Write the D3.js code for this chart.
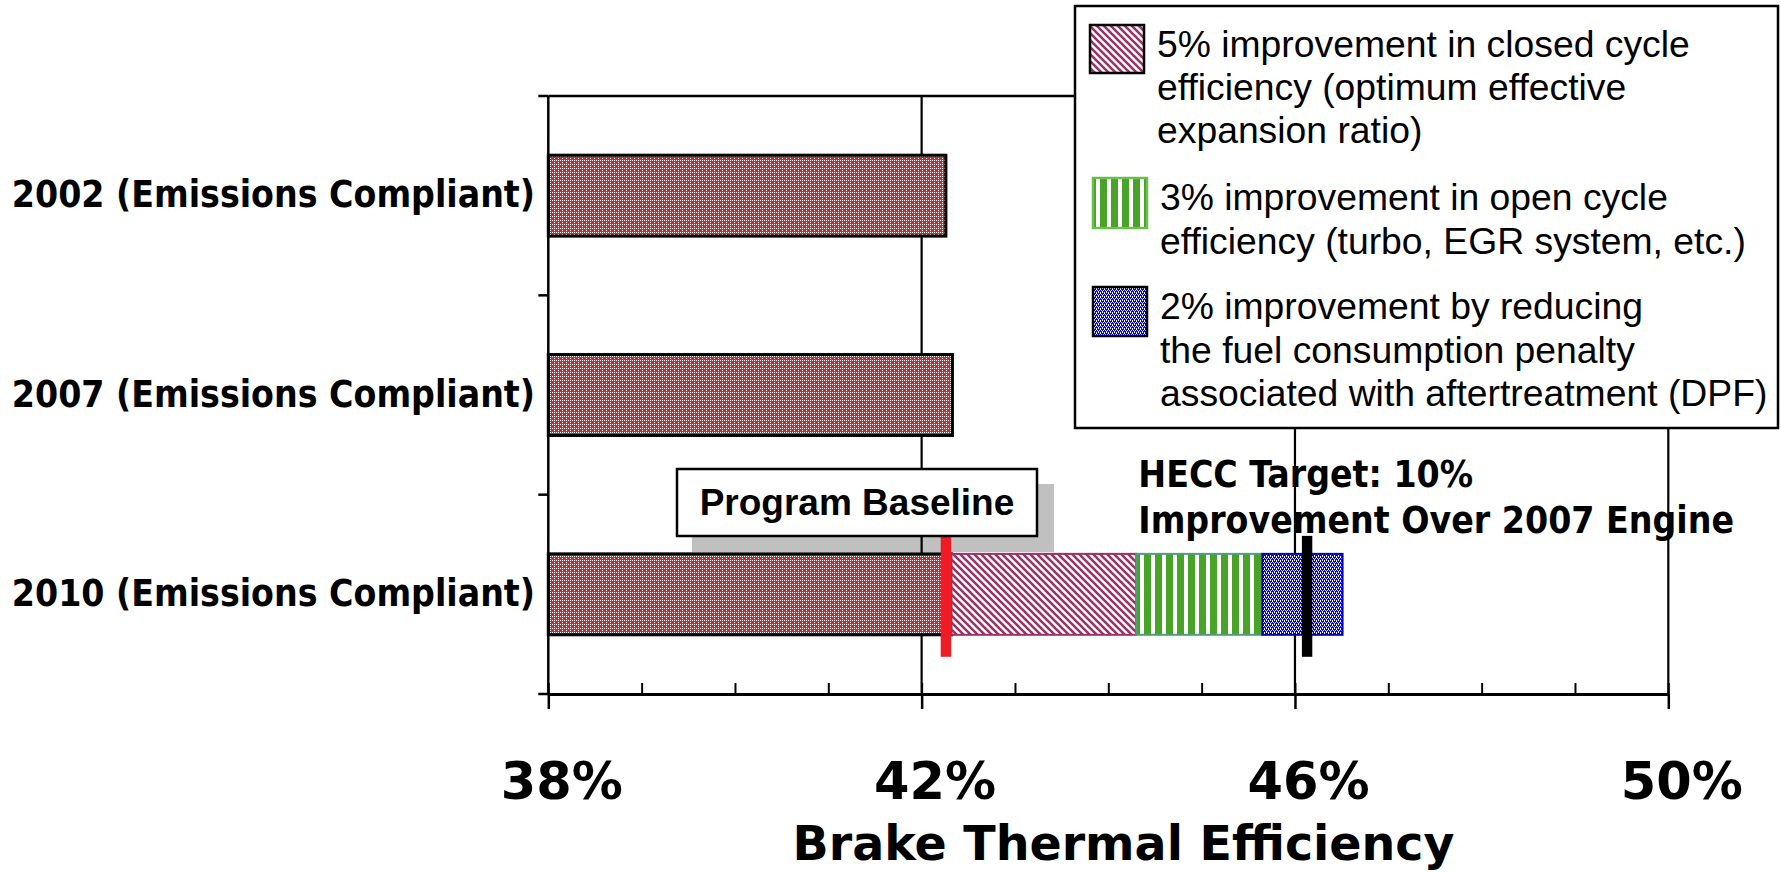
<!DOCTYPE html>
<html>
<head>
<meta charset="utf-8">
<script src="https://cdn.jsdelivr.net/npm/d3@7/dist/d3.min.js"></script>
<style>
  html, body { margin: 0; padding: 0; background: #fff; }
  svg { display: block; }
</style>
</head>
<body>
<svg id="chart" width="1781" height="872"></svg>
<script>
// ---- data ----
const categories = [
  "2002 (Emissions Compliant)",
  "2007 (Emissions Compliant)",
  "2010 (Emissions Compliant)"
];
// brake thermal efficiency of each engine generation (%)
const baseEfficiency = [42.26, 42.33, 42.32];
// cumulative efficiency after each improvement step on the 2010 engine (%)
const stepNames = ["closed", "open", "aftertreatment"];
const stepEnds = [44.30, 45.65, 46.51];
const baselineMarker = 42.26;
const targetMarker = 46.13;
const majorTicks = [38, 42, 46, 50];
const minorTicks = [38, 39, 40, 41, 42, 43, 44, 45, 46, 47, 48, 49, 50];
const legendLines = [
  ["5% improvement in closed cycle", "efficiency (optimum effective", "expansion ratio)"],
  ["3% improvement in open cycle", "efficiency (turbo, EGR system, etc.)"],
  ["2% improvement by reducing", "the fuel consumption penalty", "associated with aftertreatment (DPF)"]
];

// ---- layout ----
const svg = d3.select("#chart");
const x = d3.scaleLinear().domain([38, 50]).range([548.3, 1668.3]);
const y = d3.scaleBand().domain(categories).range([96, 694])
  .paddingInner(0.594).paddingOuter(0.297);
const axisY = y.range()[1];
const topY = y.range()[0];

const condensedBold = "'DejaVu Sans Condensed', 'DejaVu Sans', sans-serif";

// ---- fill patterns ----
const defs = svg.append("defs");
function dotPattern(id, color, whites) {
  const p = defs.append("pattern").attr("id", id)
    .attr("patternUnits", "userSpaceOnUse").attr("width", 4).attr("height", 4);
  p.append("rect").attr("width", 4).attr("height", 4).attr("fill", color);
  p.selectAll("rect.w").data(whites).join("rect").attr("class", "w")
    .attr("x", d => d[0]).attr("y", d => d[1])
    .attr("width", 1).attr("height", 1).attr("fill", "#fff");
}
dotPattern("pat-red", "#ee1c25", [[0, 0], [2, 2], [2, 0]]);
dotPattern("pat-blue", "#0000ff", [[0, 0], [2, 0], [1, 2], [3, 2], [0, 1], [2, 3]]);

const diag = defs.append("pattern").attr("id", "pat-plum")
  .attr("patternUnits", "userSpaceOnUse").attr("width", 7).attr("height", 7);
diag.append("rect").attr("width", 7).attr("height", 7).attr("fill", "#fff");
diag.append("path").attr("d", "M-1,-1 L8,8 M-1,6 L1,8 M6,-1 L8,1")
  .attr("stroke", "#993366").attr("stroke-width", 2.6);

const vert = defs.append("pattern").attr("id", "pat-green")
  .attr("patternUnits", "userSpaceOnUse").attr("width", 11).attr("height", 11);
vert.append("rect").attr("width", 11).attr("height", 11).attr("fill", "#4aa329");
vert.append("rect").attr("x", 7).attr("width", 4).attr("height", 11).attr("fill", "#fff");

const stepStyle = {
  closed: { fill: "url(#pat-plum)", stroke: "#993366" },
  open: { fill: "url(#pat-green)", stroke: "#4d9f78" },
  aftertreatment: { fill: "url(#pat-blue)", stroke: "#0000b4" }
};

// ---- "Program Baseline" callout shadow (behind the grid) ----
const callout = { x: 677, y: 469, w: 360, h: 67 };
svg.append("rect")
  .attr("x", callout.x + 15).attr("y", callout.y + 15)
  .attr("width", callout.w + 2).attr("height", callout.h + 1)
  .attr("fill", "#c0c0c0");

// ---- plot frame and vertical gridlines ----
svg.append("line")
  .attr("x1", x(38)).attr("x2", x(50)).attr("y1", topY).attr("y2", topY)
  .attr("stroke", "#000").attr("stroke-width", 2.5);
svg.append("g").selectAll("line")
  .data(majorTicks.filter(d => d !== 38))
  .join("line")
  .attr("x1", d => x(d)).attr("x2", d => x(d))
  .attr("y1", topY).attr("y2", axisY)
  .attr("stroke", "#000").attr("stroke-width", 2.2);

// ---- bars ----
const bars = svg.append("g");
bars.selectAll("rect.base")
  .data(categories.map((c, i) => ({ c, v: baseEfficiency[i] })))
  .join("rect")
  .attr("class", "base")
  .attr("x", x(38))
  .attr("y", d => y(d.c))
  .attr("width", d => x(d.v) - x(38))
  .attr("height", y.bandwidth())
  .attr("fill", "url(#pat-red)")
  .attr("stroke", "#000").attr("stroke-width", 3);

const lastCat = categories[categories.length - 1];
const steps = stepEnds.map((end, i) => ({
  name: stepNames[i],
  start: i === 0 ? baseEfficiency[baseEfficiency.length - 1] : stepEnds[i - 1],
  end
}));
bars.selectAll("rect.step")
  .data(steps)
  .join("rect")
  .attr("class", "step")
  .attr("x", d => x(d.start))
  .attr("y", y(lastCat))
  .attr("width", d => x(d.end) - x(d.start))
  .attr("height", y.bandwidth())
  .attr("fill", d => stepStyle[d.name].fill)
  .attr("stroke", d => stepStyle[d.name].stroke)
  .attr("stroke-width", 2);

// ---- axes ----
const xMinor = d3.axisBottom(x).tickValues(minorTicks).tickSize(-11).tickFormat("");
const gMinor = svg.append("g").attr("transform", `translate(0,${axisY})`).call(xMinor);
gMinor.select(".domain").remove();
gMinor.selectAll(".tick line").attr("stroke", "#000").attr("stroke-width", 2);

const xMajor = d3.axisBottom(x).tickValues(majorTicks).tickSize(15).tickSizeOuter(0)
  .tickFormat(d => d + "%");
const gMajor = svg.append("g").attr("transform", `translate(0,${axisY})`).call(xMajor);
gMajor.select(".domain").attr("stroke", "#000").attr("stroke-width", 3);
gMajor.selectAll(".tick line").attr("stroke", "#000").attr("stroke-width", 2.5);
gMajor.selectAll(".tick text")
  .attr("y", 104.5).attr("dy", 0).attr("dx", 13)
  .attr("fill", "#000")
  .style("font-family", "'DejaVu Sans', sans-serif")
  .style("font-weight", "bold")
  .style("font-size", "51px");

svg.append("text")
  .attr("x", 1123.5).attr("y", 860)
  .attr("text-anchor", "middle")
  .style("font-family", "'DejaVu Sans', sans-serif")
  .style("font-weight", "bold")
  .style("font-size", "47.5px")
  .text("Brake Thermal Efficiency");

// category axis: line plus ticks at the category boundaries
svg.append("line")
  .attr("x1", x(38)).attr("x2", x(38)).attr("y1", topY).attr("y2", axisY)
  .attr("stroke", "#000").attr("stroke-width", 2.5);
const boundaries = [topY].concat(categories.map(c => y(c) + y.bandwidth() + y.step() * y.paddingInner() / 2));
boundaries[boundaries.length - 1] = axisY;
svg.append("g").selectAll("line")
  .data(boundaries)
  .join("line")
  .attr("x1", x(38) - 10).attr("x2", x(38))
  .attr("y1", d => d).attr("y2", d => d)
  .attr("stroke", "#000").attr("stroke-width", 2.5);

svg.append("g").selectAll("text")
  .data(categories)
  .join("text")
  .attr("x", 535)
  .attr("y", d => y(d) + y.bandwidth() / 2 + 11.7)
  .attr("text-anchor", "end")
  .style("font-family", condensedBold)
  .style("font-stretch", "condensed")
  .style("font-weight", "bold")
  .style("font-size", "37px")
  .text(d => d);

// ---- baseline and target markers ----
const markerTop = y(lastCat) - 18;
const markerBottom = y(lastCat) + y.bandwidth() + 22;
svg.append("g").selectAll("rect")
  .data([{ v: baselineMarker, c: "#ee1c25" }, { v: targetMarker, c: "#000" }])
  .join("rect")
  .attr("x", d => x(d.v) - 5.2)
  .attr("y", markerTop)
  .attr("width", 10.4)
  .attr("height", markerBottom - markerTop)
  .attr("fill", d => d.c);

// ---- "Program Baseline" callout box ----
svg.append("rect")
  .attr("x", callout.x).attr("y", callout.y)
  .attr("width", callout.w).attr("height", callout.h)
  .attr("fill", "#fff").attr("stroke", "#000").attr("stroke-width", 2.5);
svg.append("text")
  .attr("x", callout.x + callout.w / 2).attr("y", 515)
  .attr("text-anchor", "middle")
  .style("font-family", "'Liberation Sans', Arial, sans-serif")
  .style("font-weight", "bold")
  .style("font-size", "37px")
  .text("Program Baseline");

// ---- target annotation ----
const target = svg.append("text")
  .style("font-family", condensedBold)
  .style("font-stretch", "condensed")
  .style("font-weight", "bold")
  .style("font-size", "37px");
target.append("tspan").attr("x", 1138.3).attr("y", 487.3).text("HECC Target: 10%");
target.append("tspan").attr("x", 1138.3).attr("y", 532.7).text("Improvement Over 2007 Engine");

// ---- legend ----
const legend = svg.append("g");
legend.append("rect")
  .attr("x", 1075).attr("y", 6).attr("width", 703).attr("height", 422)
  .attr("fill", "#fff").attr("stroke", "#000").attr("stroke-width", 2.5);

const swatches = [
  { x: 1090, y: 25, w: 54, h: 48, fill: "url(#pat-plum)", stroke: "#000" },
  { x: 1093, y: 178, w: 54, h: 50, fill: "url(#pat-green)", stroke: "#6cbf4a" },
  { x: 1093, y: 287, w: 54, h: 49, fill: "url(#pat-blue)", stroke: "#000" }
];
legend.selectAll("rect.sw")
  .data(swatches)
  .join("rect")
  .attr("class", "sw")
  .attr("x", d => d.x).attr("y", d => d.y)
  .attr("width", d => d.w).attr("height", d => d.h)
  .attr("fill", d => d.fill)
  .attr("stroke", d => d.stroke).attr("stroke-width", 2.5);

const firstBaselines = [56.8, 210.2, 319.2];
const textX = [1157, 1160, 1160];
const lineGap = 43.3;
legendLines.forEach((lines, gi) => {
  const t = legend.append("text")
    .style("font-family", "'Liberation Sans', Arial, sans-serif")
    .style("font-size", "37.3px")
    .attr("fill", "#000");
  lines.forEach((ln, li) => {
    t.append("tspan")
      .attr("x", textX[gi])
      .attr("y", firstBaselines[gi] + li * lineGap)
      .text(ln);
  });
});
</script>
</body>
</html>
